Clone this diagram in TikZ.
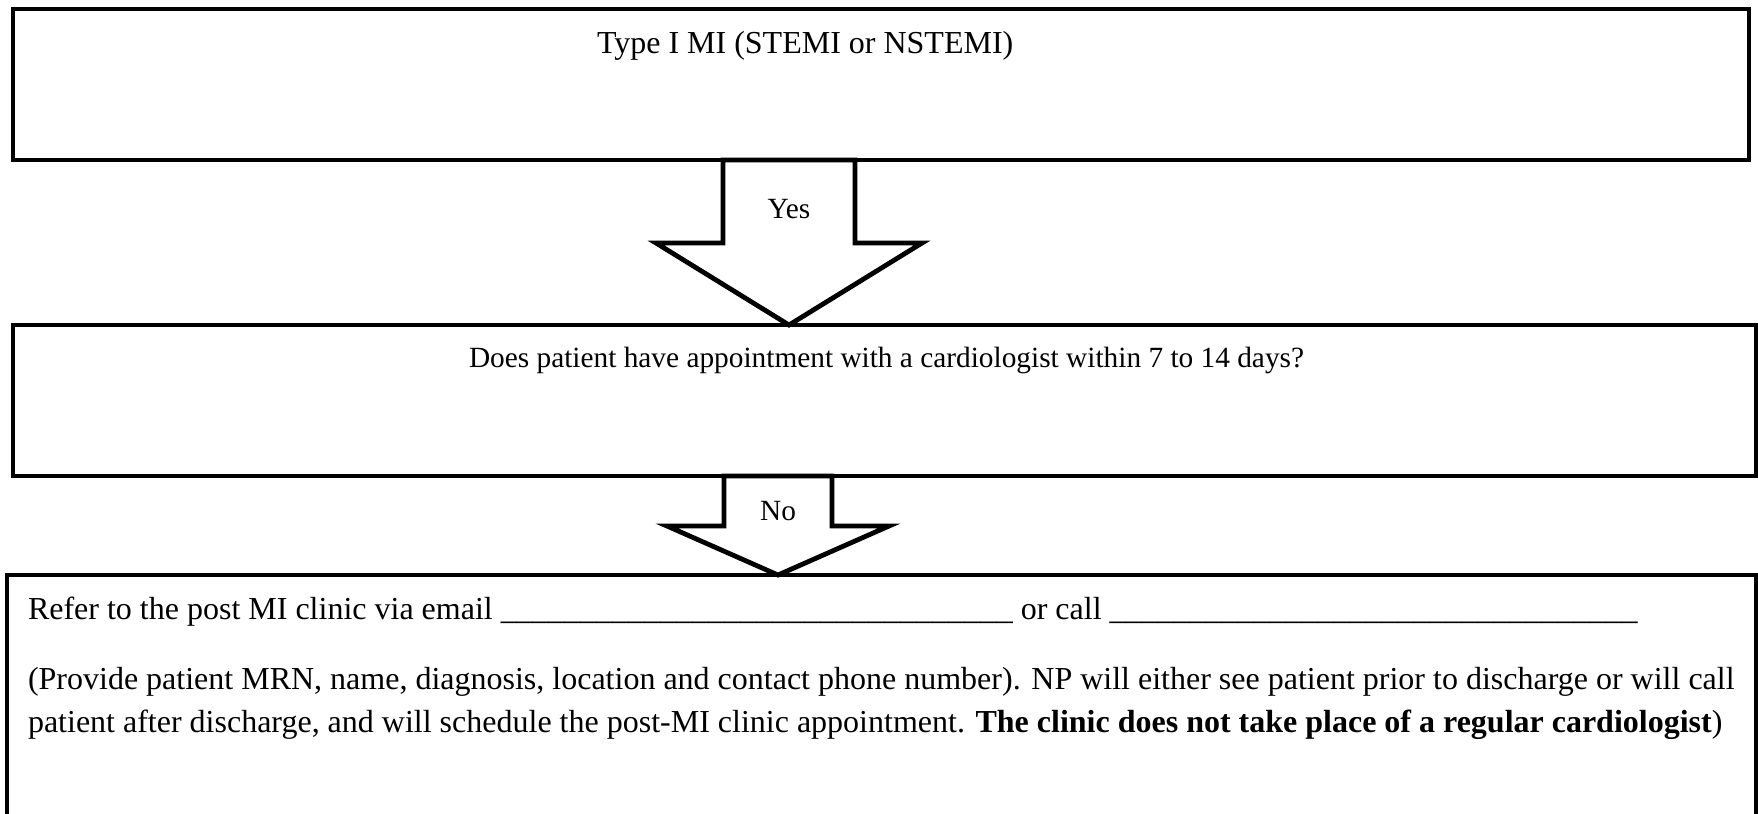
\documentclass[tikz,border=0pt]{standalone}
\usepackage{fontspec}
\setmainfont{Liberation Serif}
\usetikzlibrary{calc}
\begin{document}
\begin{tikzpicture}[x=0.375pt,y=-0.375pt,
  boxline/.style={draw=black,line width=1.8pt,line join=miter},
  blockarrow/.style={draw=black,fill=white,line width=1.8pt,line join=miter},
  txt/.style={inner sep=0pt,outer sep=0pt,anchor=base west,font=\fontsize{12pt}{16pt}\selectfont},
  smalltxt/.style={inner sep=0pt,outer sep=0pt,anchor=base west,font=\fontsize{11pt}{14pt}\selectfont},
  lbl/.style={inner sep=0pt,outer sep=0pt,anchor=base,font=\fontsize{11pt}{14pt}\selectfont}]
\useasboundingbox (0,0) rectangle (1758,813);
% boxes
\draw[boxline] (13,9) rectangle (1749,160);
\draw[boxline] (13,325) rectangle (1756,476);
\draw[boxline] (7,840) -- (7,575) -- (1756,575) -- (1756,840);
\coordinate (b1s) at (789,160);
\coordinate (b2n) at (789,325);
\coordinate (b2s) at (778,476);
\coordinate (b3n) at (778,575);
% Yes arrow
\draw[blockarrow] ($(b1s)+(-66,0)$) -- ($(b1s)+(66,0)$) -- ($(b1s)+(66,83)$) -- ($(b1s)+(133,83)$)
  -- (b2n) -- ($(b1s)+(-133,83)$) -- ($(b1s)+(-66,83)$) -- cycle;
% No arrow
\draw[blockarrow] ($(b2s)+(-54,0)$) -- ($(b2s)+(54,0)$) -- ($(b2s)+(54,50)$) -- ($(b2s)+(111,50)$)
  -- (b3n) -- ($(b2s)+(-111,50)$) -- ($(b2s)+(-54,50)$) -- cycle;
% texts
\node[txt] (t1) at (597,53) {Type I MI (STEMI or NSTEMI)};
\node[smalltxt] (t2) at (469,367) {Does patient have appointment with a cardiologist within 7 to 14 days?};
\node[lbl] (yes) at (789,218) {Yes};
\node[lbl] (no) at (778,520) {No};
\node[txt] (t3a) at (28,619) {Refer to the post MI clinic via email \_\_\_\_\_\_\_\_\_\_\_\_\_\_\_\_\_\_\_\_\_\_\_\_\_\_\_\_\_\_\_\_ or call \_\_\_\_\_\_\_\_\_\_\_\_\_\_\_\_\_\_\_\_\_\_\_\_\_\_\_\_\_\_\_\_\_};
\node[txt] (t3b) at (28,689) {(Provide patient MRN, name, diagnosis, location and contact phone number). NP will either see patient prior to discharge or will call};
\node[txt] (t3c) at (28,732) {patient after discharge, and will schedule the post-MI clinic appointment. \textbf{The clinic does not take place of a regular cardiologist})};
\end{tikzpicture}
\end{document}
